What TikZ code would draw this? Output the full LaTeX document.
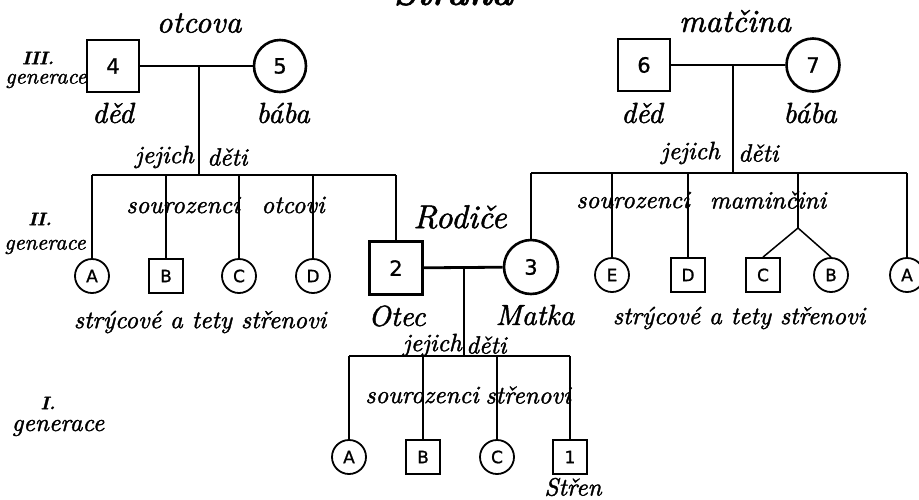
\documentclass[tikz,border=0pt]{standalone}
\usepackage{fontspec}
\newfontfamily\hand[FakeBold=1.5]{lmroman10-italic.otf}
\newfontfamily\handb[FakeBold=1.5]{lmroman10-bolditalic.otf}
\newfontfamily\nodefont[FakeBold=1]{DejaVu Sans}
\begin{document}
\begin{tikzpicture}[x=1pt,y=-1pt,
  bigsq/.style={draw, line width=2.6pt, minimum size=52pt, inner sep=0pt, font=\nodefont\fontsize{21}{21}\selectfont},
  bigci/.style={bigsq, circle},
  smsq/.style={draw, line width=1.8pt, minimum size=34pt, inner sep=0pt, font=\nodefont\fontsize{17}{17}\selectfont},
  smci/.style={smsq, circle},
  fam/.style={line width=2.8pt},
  mid/.style={line width=2.2pt},
  kid/.style={line width=1.5pt},
  lab/.style={inner sep=0pt, font=\hand\fontsize{25}{27}\selectfont},
  biglab/.style={inner sep=0pt, font=\hand\fontsize{29}{31}\selectfont},
  genlab/.style={inner sep=0pt, font=\hand\fontsize{22}{24}\selectfont},
  numlab/.style={inner sep=0pt, font=\handb\fontsize{18}{20}\selectfont}
]
\useasboundingbox (0,0) rectangle (919,499);
\fill[white] (0,0) rectangle (919,499);

% title (cut at the top edge, as in the reference)
\node[anchor=base, inner sep=0pt, font=\handb\fontsize{36}{38}\selectfont] (title) at (453,5) {Strana};

% generation III
\node[bigsq] (p4) at (113,66) {4};
\node[bigci] (p5) at (280,66) {5};
\node[bigsq] (p6) at (644,65) {6};
\node[bigci, minimum size=53pt] (p7) at (813,65) {7};

% generation II parents
\node[bigsq, minimum size=53pt] (p2) at (396,268) {2};
\node[bigci, minimum size=54pt] (p3) at (531,267) {3};

% father's siblings
\node[smci] (a1) at (92,276) {A};
\node[smsq] (b1) at (166,276) {B};
\node[smci] (c1) at (239,276) {C};
\node[smci] (d1) at (313,276) {D};

% mother's siblings
\node[smci] (e2) at (612,275) {E};
\node[smsq] (d2) at (688,275) {D};
\node[smsq] (c2) at (763,275) {C};
\node[smci] (b2) at (831,275) {B};
\node[smci] (a2) at (907,275) {A};

% generation I
\node[smci] (a3) at (349,457) {A};
\node[smsq] (b3) at (423,457) {B};
\node[smci] (c3) at (497,457) {C};
\node[smsq] (p1) at (570,457) {1};

% coordinates
\coordinate (m1) at (199,66);
\coordinate (j1) at (199,175);
\coordinate (m2) at (733,65);
\coordinate (j2) at (733,173);
\coordinate (m3) at (464,267);
\coordinate (j3) at (464,356);
\coordinate (tw) at (798,228);

% father's family
\draw[fam] (p4) -- (p5);
\draw[fam] (m1) -- (j1);
\draw[mid] (a1.north |- j1) -- (p2.north |- j1);
\draw[kid] (a1.north) -- (a1.north |- j1);
\draw[kid] (b1.north) -- (b1.north |- j1);
\draw[kid] (c1.north) -- (c1.north |- j1);
\draw[kid] (d1.north) -- (d1.north |- j1);
\draw[fam] (p2.north) -- (p2.north |- j1);

% mother's family
\draw[fam] (p6) -- (p7);
\draw[fam] (m2) -- (j2);
\draw[mid] (p3.north |- j2) -- (a2.north |- j2);
\draw[fam] (p3.north) -- (p3.north |- j2);
\draw[kid] (e2.north) -- (e2.north |- j2);
\draw[kid] (d2.north) -- (d2.north |- j2);
\draw[kid] (tw |- j2) -- (tw);
\draw[kid] (tw) -- (c2.north);
\draw[kid] (tw) -- (b2.north);
\draw[kid] (a2.north) -- (a2.north |- j2);

% parents' family
\draw[fam] (p2) -- (p3);
\draw[fam] (m3) -- (j3);
\draw[mid] (a3.north |- j3) -- (p1.north |- j3);
\draw[kid] (a3.north) -- (a3.north |- j3);
\draw[kid] (b3.north) -- (b3.north |- j3);
\draw[kid] (c3.north) -- (c3.north |- j3);
\draw[fam] (p1.north) -- (p1.north |- j3);

% labels
\node[biglab, font=\hand\fontsize{31}{33}\selectfont] (lotc) at (199,23) {otcova};
\node[biglab, font=\hand\fontsize{32}{34}\selectfont] (lmat) at (735,21) {matčina};
\node[biglab] (ldd1) at (113,113) {děd};
\node[biglab] (lbb1) at (283,113) {bába};
\node[biglab] (ldd2) at (642,113) {děd};
\node[biglab] (lbb2) at (810,113) {bába};

\node[lab, anchor=east] (lj1) at (194,157) {jejich};
\node[lab, anchor=west] (ld1) at (207,157) {děti};
\node[lab, anchor=east] (lj2) at (720,153) {jejich};
\node[lab, anchor=west] (ld2) at (738,153) {děti};
\node[lab, anchor=east] (lj3) at (462,345) {jejich};
\node[lab, anchor=west] (ld3) at (466,345) {děti};

\node[lab] (ls1) at (183,205) {sourozenci};
\node[lab] (lo1) at (293,205) {otcovi};
\node[lab] (ls2) at (633,200) {sourozenci};
\node[lab] (lm2) at (768,200) {maminčini};
\node[lab] (ls3) at (422,395) {sourozenci};
\node[lab] (lst3) at (528,395) {střenovi};

\node[biglab, font=\hand\fontsize{33}{35}\selectfont] (lrod) at (460,217) {Rodiče};
\node[biglab] (lotec) at (397,316) {Otec};
\node[biglab] (lmatka) at (535,315) {Matka};

\node[lab] (lst1) at (200,322) {strýcové a tety střenovi};
\node[lab] (lst2) at (739,318) {strýcové a tety střenovi};
\node[lab] (lstr) at (573,487) {Střen};

% generations
\node[numlab] (g3n) at (38,58) {III.};
\node[genlab] (g3) at (46,81) {generace};
\node[numlab] (g2n) at (40,219) {II.};
\node[genlab] (g2) at (45,247) {generace};
\node[numlab] (g1n) at (48,403) {I.};
\node[genlab, font=\hand\fontsize{25}{27}\selectfont] (g1) at (58,428) {generace};
\end{tikzpicture}
\end{document}
